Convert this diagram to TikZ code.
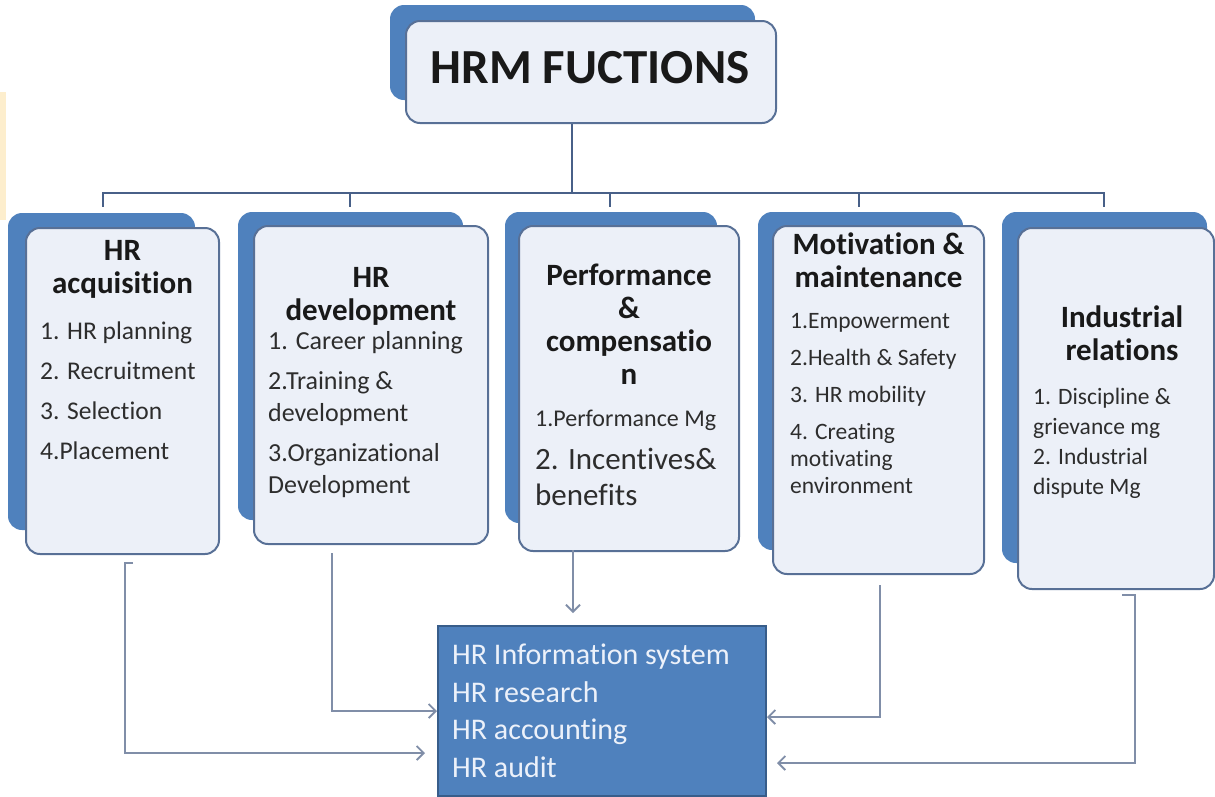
\documentclass[tikz,border=0pt]{standalone}
\usepackage{fontspec}
\setmainfont{Carlito}[Ligatures=NoCommon]
\usetikzlibrary{positioning,arrows.meta}

\definecolor{cardblue}{RGB}{79,129,189}
\definecolor{cardedge}{RGB}{88,112,150}
\definecolor{cardfill}{RGB}{236,240,248}
\definecolor{busline}{RGB}{72,96,136}
\definecolor{flowline}{RGB}{128,142,168}
\definecolor{infoedge}{RGB}{56,93,138}
\definecolor{infotext}{RGB}{236,241,250}
\definecolor{inkdark}{RGB}{25,25,25}
\definecolor{inkgrey}{RGB}{45,45,45}
\definecolor{paleamber}{RGB}{253,238,205}

\tikzset{
  backcard/.style={fill=cardblue, rounded corners=14pt},
  frontcard/.style={draw=cardedge, line width=2pt, fill=cardfill, rounded corners=14pt, anchor=north west},
  head/.style={font=\bfseries\fontsize{31}{33}\selectfont, align=center, inner sep=0pt, text=inkdark},
  items/.style={align=left, inner sep=0pt, text=inkgrey, anchor=north west},
  bus/.style={draw=busline, line width=2.5pt},
  flow/.style={draw=flowline, line width=1.8pt, -{Straight Barb[length=7pt,width=14pt]}}
}

\begin{document}
\begin{tikzpicture}[x=1pt, y=-1pt]
  \useasboundingbox (0,0) rectangle (1215,796);
  \fill[paleamber] (0,92) rectangle (6,220);

  % title
  \fill[backcard] (390,5) rectangle (755,100);
  \node[frontcard, minimum width=370pt, minimum height=102pt] (top) at (405,20) {};
  \node[font=\bfseries\fontsize{49}{52}\selectfont, text=inkdark] (title) at (590,68) {HRM FUCTIONS};

  % bus
  \coordinate (hub) at (572,193);
  \draw[bus] (top.south -| hub) -- (hub);
  \foreach \x in {103,350,610,859,1104}
  \draw[bus] (hub) -| (\x,207);

  % cards
  \fill[backcard] (8,213) rectangle (195,530);
  \node[frontcard, minimum width=193pt, minimum height=326pt] (card1) at (25,227) {};
  \fill[backcard] (238,212) rectangle (463,520);
  \node[frontcard, minimum width=234pt, minimum height=318pt] (card2) at (253,225) {};
  \fill[backcard] (505,212) rectangle (717,523);
  \node[frontcard, minimum width=220pt, minimum height=325pt] (card3) at (518,225) {};
  \fill[backcard] (758,212) rectangle (963,550);
  \node[frontcard, minimum width=211pt, minimum height=348pt] (card4) at (772,225) {};
  \fill[backcard] (1002,212) rectangle (1207,563);
  \node[frontcard, minimum width=196pt, minimum height=361pt] (card5) at (1017,227) {};

  % headings
  \node[head, below=13pt of card1.north] (head1) {HR\\acquisition};
  \node[head, below=42pt of card2.north] (head2) {HR\\development};
  \node[head, below=39pt of card3.north] (head3) {Performance\\\&\\compensatio\\n};
  \node[head, below=8pt of card4.north] (head4) {Motivation \&\\maintenance};
  \node[head, below=79pt of card5.north, xshift=6pt] (head5) {Industrial\\relations};

  % item lists
  \node[items, font=\fontsize{25.5}{40}\selectfont] (list1) at (40,322)
    {1. HR planning\\2. Recruitment\\3. Selection\\4.Placement};
  \node[items, font=\fontsize{26}{32}\selectfont] (list2) at (268,331)
    {1. Career planning\\[8pt]2.Training \&\\development\\[8pt]3.Organizational\\Development};
  \node[items, font=\fontsize{24}{28}\selectfont] (list3a) at (535,410) {1.Performance Mg};
  \node[items, font=\fontsize{31}{36}\selectfont] (list3b) at (535,448) {2. Incentives\&\\benefits};
  \node[items, font=\fontsize{23.5}{27}\selectfont] (list4) at (790,313)
    {1.Empowerment\\[10pt]2.Health \& Safety\\[10pt]3. HR mobility\\[10pt]4. Creating\\motivating\\environment};
  \node[items, font=\fontsize{23.5}{30}\selectfont] (list5) at (1033,388)
    {1. Discipline \&\\grievance mg\\2. Industrial\\dispute Mg};

  % info box
  \node[draw=infoedge, line width=2pt, fill=cardblue, anchor=north west,
        minimum width=328pt, minimum height=170pt] (info) at (437,625) {};
  \node[items, text=infotext, font=\fontsize{30}{37.5}\selectfont] (infolist) at (452,644)
    {HR Information system\\HR research\\HR accounting\\HR audit};

  % flows into info box
  \coordinate (o1) at (125,563);
  \coordinate (o2) at (332,553);
  \coordinate (o3) at (573,550);
  \coordinate (o4) at (880,585);
  \coordinate (o5) at (1135,595);
  \coordinate (y1) at (0,753);
  \coordinate (y2) at (0,711);
  \coordinate (y4) at (0,717);
  \coordinate (y5) at (0,763);
  \draw[flow, shorten >=12pt] (133,563) -- (o1) |- (info.west |- y1);
  \draw[flow] (o2) |- (info.west |- y2);
  \draw[flow, shorten >=12pt] (o3) -- (o3 |- info.north);
  \draw[flow] (o4) |- (info.east |- y4);
  \draw[flow, shorten >=10pt] (1122,595) -- (o5) |- (info.east |- y5);
\end{tikzpicture}
\end{document}
